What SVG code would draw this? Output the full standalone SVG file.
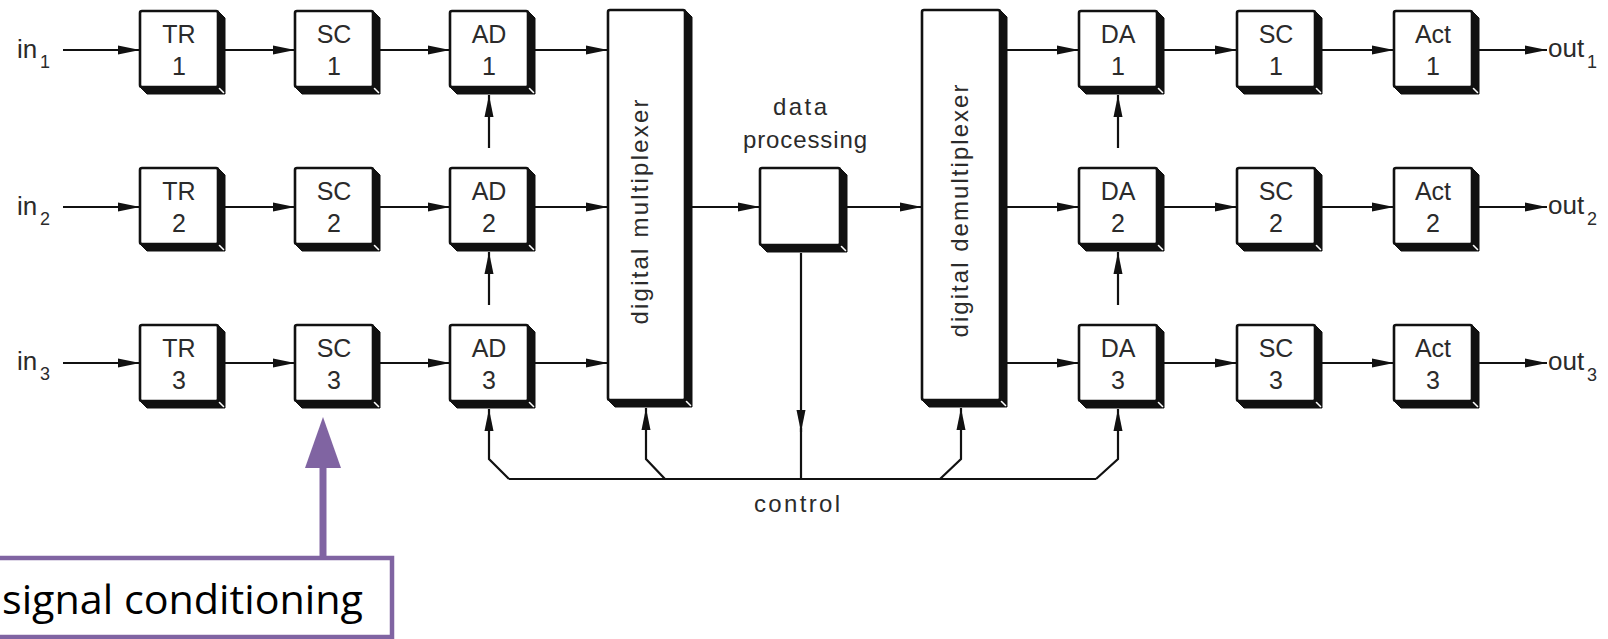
<svg xmlns="http://www.w3.org/2000/svg" width="1608" height="639" viewBox="0 0 1608 639">
<style>
.face{fill:#fff;stroke:#111;stroke-width:2.6}
.sh{fill:#111;stroke:#111;stroke-width:1;stroke-linejoin:round}
.glint{stroke:#fff;stroke-width:1.6;stroke-linecap:round}
.lbl{font-family:"Liberation Sans",Arial,sans-serif;font-size:25px;fill:#2b2b2b;text-anchor:middle}
.t{font-family:"Liberation Sans",Arial,sans-serif;font-size:24px;fill:#2b2b2b}
.io{font-family:"Liberation Sans",Arial,sans-serif;font-size:26px;fill:#2b2b2b}
.sub{font-family:"Liberation Sans",Arial,sans-serif;font-size:18px;fill:#2b2b2b}
.c{fill:none;stroke:#111;stroke-width:2.2}
.ca{fill:none;stroke:#111;stroke-width:2.2;marker-end:url(#ah)}
.call{font-family:"Open Sans","Noto Sans",sans-serif;font-size:40px;fill:#000}
</style>
<defs>
<marker id="ah" markerUnits="userSpaceOnUse" markerWidth="22" markerHeight="10" refX="22" refY="5" orient="auto">
<path d="M0,0.5 L22,5 L0,9.5 z" fill="#111"/>
</marker>
</defs>
<rect width="1608" height="639" fill="#fff"/>

<g id="connectors">
<!-- row 1 -->
<path class="ca" d="M63,50 H140"/>
<path class="ca" d="M225,50 H295"/>
<path class="ca" d="M380,50 H450"/>
<path class="ca" d="M535,50 H608"/>
<path class="ca" d="M1007,50 H1079"/>
<path class="ca" d="M1164,50 H1237"/>
<path class="ca" d="M1322,50 H1394"/>
<path class="ca" d="M1479,50 H1547"/>
<!-- row 2 -->
<path class="ca" d="M63,207 H140"/>
<path class="ca" d="M225,207 H295"/>
<path class="ca" d="M380,207 H450"/>
<path class="ca" d="M535,207 H608"/>
<path class="ca" d="M692,207 H760"/>
<path class="ca" d="M847,207 H922"/>
<path class="ca" d="M1007,207 H1079"/>
<path class="ca" d="M1164,207 H1237"/>
<path class="ca" d="M1322,207 H1394"/>
<path class="ca" d="M1479,207 H1547"/>
<!-- row 3 -->
<path class="ca" d="M63,363 H140"/>
<path class="ca" d="M225,363 H295"/>
<path class="ca" d="M380,363 H450"/>
<path class="ca" d="M535,363 H608"/>
<path class="ca" d="M1007,363 H1079"/>
<path class="ca" d="M1164,363 H1237"/>
<path class="ca" d="M1322,363 H1394"/>
<path class="ca" d="M1479,363 H1547"/>
<!-- vertical up arrows -->
<path class="ca" d="M489,148 V95"/>
<path class="ca" d="M489,305 V252"/>
<path class="ca" d="M1118,148 V95"/>
<path class="ca" d="M1118,305 V252"/>
<!-- control bus -->
<path class="c" d="M509,479 H1096"/>
<path class="ca" d="M509,479 L489,459 V409"/>
<path class="ca" d="M665,479 L646,459 V408"/>
<path class="ca" d="M801,253 V432"/>
<path class="c" d="M801,428 V479"/>
<path class="ca" d="M940,479 L961,459 V408"/>
<path class="ca" d="M1096,479 L1118,459 V409"/>
</g>

<g id="in-labels">
<text class="io" x="17" y="58">in</text><text class="sub" x="40" y="68">1</text>
<text class="io" x="17" y="215">in</text><text class="sub" x="40" y="225">2</text>
<text class="io" x="17" y="370">in</text><text class="sub" x="40" y="380">3</text>
</g>
<g id="out-labels">
<text class="io" x="1548" y="57">out</text><text class="sub" x="1587" y="68">1</text>
<text class="io" x="1548" y="214">out</text><text class="sub" x="1587" y="225">2</text>
<text class="io" x="1548" y="370">out</text><text class="sub" x="1587" y="381">3</text>
</g>

<!-- Row 1 -->
<g id="tr1"><polygon class="sh" points="218,11 225,18 225,94 147,94 140,87"/><rect class="face" x="140" y="11" width="78" height="76" rx="2"/><line class="glint" x1="219.5" y1="88.5" x2="223.5" y2="92.5"/><text class="lbl" x="179" y="43">TR</text><text class="lbl" x="179" y="75">1</text></g>
<g id="sc1"><polygon class="sh" points="373,11 380,18 380,94 302,94 295,87"/><rect class="face" x="295" y="11" width="78" height="76" rx="2"/><line class="glint" x1="374.5" y1="88.5" x2="378.5" y2="92.5"/><text class="lbl" x="334" y="43">SC</text><text class="lbl" x="334" y="75">1</text></g>
<g id="ad1"><polygon class="sh" points="528,11 535,18 535,94 457,94 450,87"/><rect class="face" x="450" y="11" width="78" height="76" rx="2"/><line class="glint" x1="529.5" y1="88.5" x2="533.5" y2="92.5"/><text class="lbl" x="489" y="43">AD</text><text class="lbl" x="489" y="75">1</text></g>
<g id="da1"><polygon class="sh" points="1157,11 1164,18 1164,94 1086,94 1079,87"/><rect class="face" x="1079" y="11" width="78" height="76" rx="2"/><line class="glint" x1="1158.5" y1="88.5" x2="1162.5" y2="92.5"/><text class="lbl" x="1118" y="43">DA</text><text class="lbl" x="1118" y="75">1</text></g>
<g id="sc1b"><polygon class="sh" points="1315,11 1322,18 1322,94 1244,94 1237,87"/><rect class="face" x="1237" y="11" width="78" height="76" rx="2"/><line class="glint" x1="1316.5" y1="88.5" x2="1320.5" y2="92.5"/><text class="lbl" x="1276" y="43">SC</text><text class="lbl" x="1276" y="75">1</text></g>
<g id="act1"><polygon class="sh" points="1472,11 1479,18 1479,94 1401,94 1394,87"/><rect class="face" x="1394" y="11" width="78" height="76" rx="2"/><line class="glint" x1="1473.5" y1="88.5" x2="1477.5" y2="92.5"/><text class="lbl" x="1433" y="43">Act</text><text class="lbl" x="1433" y="75">1</text></g>

<!-- Row 2 -->
<g id="tr2"><polygon class="sh" points="218,168 225,175 225,251 147,251 140,244"/><rect class="face" x="140" y="168" width="78" height="76" rx="2"/><line class="glint" x1="219.5" y1="245.5" x2="223.5" y2="249.5"/><text class="lbl" x="179" y="200">TR</text><text class="lbl" x="179" y="232">2</text></g>
<g id="sc2"><polygon class="sh" points="373,168 380,175 380,251 302,251 295,244"/><rect class="face" x="295" y="168" width="78" height="76" rx="2"/><line class="glint" x1="374.5" y1="245.5" x2="378.5" y2="249.5"/><text class="lbl" x="334" y="200">SC</text><text class="lbl" x="334" y="232">2</text></g>
<g id="ad2"><polygon class="sh" points="528,168 535,175 535,251 457,251 450,244"/><rect class="face" x="450" y="168" width="78" height="76" rx="2"/><line class="glint" x1="529.5" y1="245.5" x2="533.5" y2="249.5"/><text class="lbl" x="489" y="200">AD</text><text class="lbl" x="489" y="232">2</text></g>
<g id="da2"><polygon class="sh" points="1157,168 1164,175 1164,251 1086,251 1079,244"/><rect class="face" x="1079" y="168" width="78" height="76" rx="2"/><line class="glint" x1="1158.5" y1="245.5" x2="1162.5" y2="249.5"/><text class="lbl" x="1118" y="200">DA</text><text class="lbl" x="1118" y="232">2</text></g>
<g id="sc2b"><polygon class="sh" points="1315,168 1322,175 1322,251 1244,251 1237,244"/><rect class="face" x="1237" y="168" width="78" height="76" rx="2"/><line class="glint" x1="1316.5" y1="245.5" x2="1320.5" y2="249.5"/><text class="lbl" x="1276" y="200">SC</text><text class="lbl" x="1276" y="232">2</text></g>
<g id="act2"><polygon class="sh" points="1472,168 1479,175 1479,251 1401,251 1394,244"/><rect class="face" x="1394" y="168" width="78" height="76" rx="2"/><line class="glint" x1="1473.5" y1="245.5" x2="1477.5" y2="249.5"/><text class="lbl" x="1433" y="200">Act</text><text class="lbl" x="1433" y="232">2</text></g>

<!-- Row 3 -->
<g id="tr3"><polygon class="sh" points="218,325 225,332 225,408 147,408 140,401"/><rect class="face" x="140" y="325" width="78" height="76" rx="2"/><line class="glint" x1="219.5" y1="402.5" x2="223.5" y2="406.5"/><text class="lbl" x="179" y="357">TR</text><text class="lbl" x="179" y="389">3</text></g>
<g id="sc3"><polygon class="sh" points="373,325 380,332 380,408 302,408 295,401"/><rect class="face" x="295" y="325" width="78" height="76" rx="2"/><line class="glint" x1="374.5" y1="402.5" x2="378.5" y2="406.5"/><text class="lbl" x="334" y="357">SC</text><text class="lbl" x="334" y="389">3</text></g>
<g id="ad3"><polygon class="sh" points="528,325 535,332 535,408 457,408 450,401"/><rect class="face" x="450" y="325" width="78" height="76" rx="2"/><line class="glint" x1="529.5" y1="402.5" x2="533.5" y2="406.5"/><text class="lbl" x="489" y="357">AD</text><text class="lbl" x="489" y="389">3</text></g>
<g id="da3"><polygon class="sh" points="1157,325 1164,332 1164,408 1086,408 1079,401"/><rect class="face" x="1079" y="325" width="78" height="76" rx="2"/><line class="glint" x1="1158.5" y1="402.5" x2="1162.5" y2="406.5"/><text class="lbl" x="1118" y="357">DA</text><text class="lbl" x="1118" y="389">3</text></g>
<g id="sc3b"><polygon class="sh" points="1315,325 1322,332 1322,408 1244,408 1237,401"/><rect class="face" x="1237" y="325" width="78" height="76" rx="2"/><line class="glint" x1="1316.5" y1="402.5" x2="1320.5" y2="406.5"/><text class="lbl" x="1276" y="357">SC</text><text class="lbl" x="1276" y="389">3</text></g>
<g id="act3"><polygon class="sh" points="1472,325 1479,332 1479,408 1401,408 1394,401"/><rect class="face" x="1394" y="325" width="78" height="76" rx="2"/><line class="glint" x1="1473.5" y1="402.5" x2="1477.5" y2="406.5"/><text class="lbl" x="1433" y="357">Act</text><text class="lbl" x="1433" y="389">3</text></g>

<!-- multiplexer -->
<g id="mux"><polygon class="sh" points="685,10 692,17 692,407 615,407 608,400"/><rect class="face" x="608" y="10" width="77" height="390" rx="2"/><line class="glint" x1="686.5" y1="401.5" x2="690.5" y2="405.5"/><text class="t" text-anchor="middle" textLength="225" transform="translate(648,212) rotate(-90)">digital  multiplexer</text></g>

<!-- data processing -->
<g id="dp"><polygon class="sh" points="840,168 847,175 847,252 767,252 760,245"/><rect class="face" x="760" y="168" width="80" height="77" rx="2"/><line class="glint" x1="841.5" y1="246.5" x2="845.5" y2="250.5"/><text class="t" x="800" y="115" text-anchor="middle" textLength="54">data</text><text class="t" x="805" y="148" text-anchor="middle" textLength="124">processing</text></g>

<!-- demultiplexer -->
<g id="demux"><polygon class="sh" points="1000,10 1007,17 1007,407 929,407 922,400"/><rect class="face" x="922" y="10" width="78" height="390" rx="2"/><line class="glint" x1="1001.5" y1="401.5" x2="1005.5" y2="405.5"/><text class="t" text-anchor="middle" textLength="253" transform="translate(968,211) rotate(-90)">digital  demultiplexer</text></g>

<g id="control-label"><text class="t" x="797" y="512" text-anchor="middle" textLength="86">control</text></g>

<!-- callout -->
<g id="callout">
<line x1="323" y1="558" x2="323" y2="460" stroke="#8064A2" stroke-width="7"/>
<polygon points="323,417 305,468 341,468" fill="#8064A2"/>
<rect x="-5" y="558" width="397" height="79" fill="#fff" stroke="#8064A2" stroke-width="4.5"/>
<text class="call" x="2" y="614" textLength="361" lengthAdjust="spacingAndGlyphs">signal conditioning</text>
</g>
</svg>
